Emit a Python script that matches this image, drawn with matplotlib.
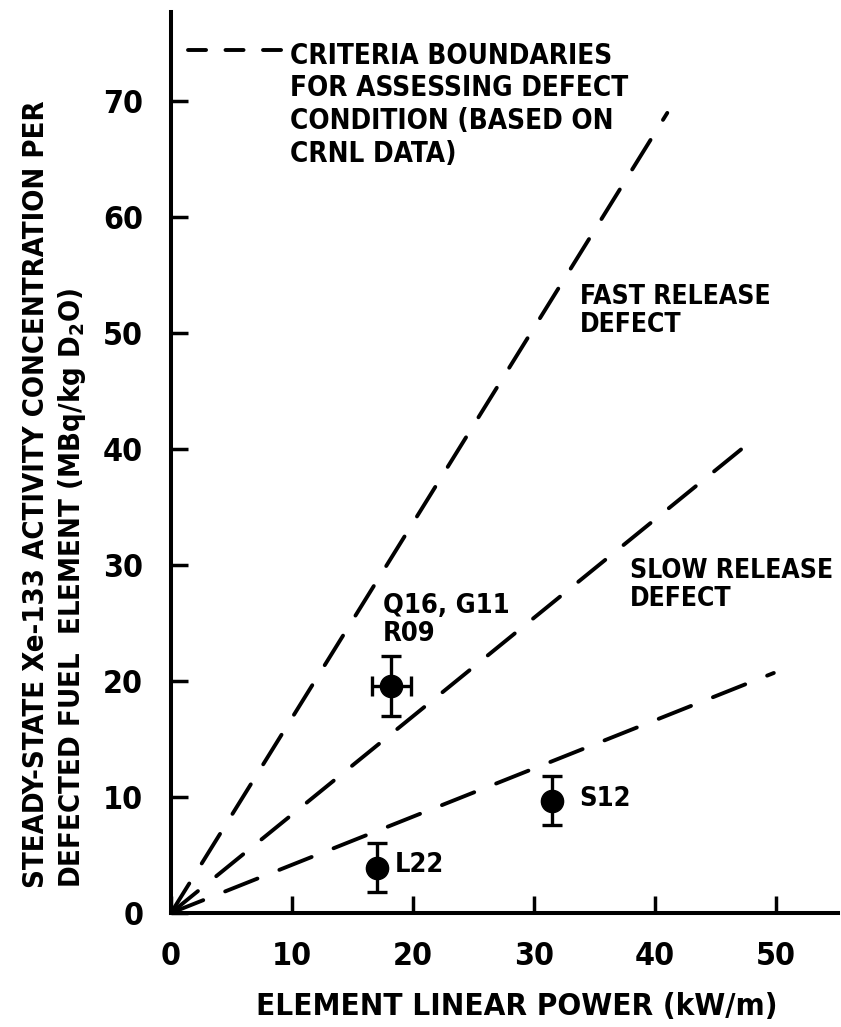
import numpy as np
import matplotlib
matplotlib.use('Agg')
import matplotlib.pyplot as plt
import matplotlib.font_manager as fm

# pick a condensed face if one is installed, the original lettering is narrow
cands = [f for f in fm.fontManager.ttflist
         if 'condensed' in str(f.stretch).lower() or 'Condensed' in f.name or 'Narrow' in f.name]
cands.sort(key=lambda f: (0 if 'DejaVu' in f.name else 1 if 'Liberation' in f.name else 2))
if cands:
    plt.rcParams['font.family'] = [cands[0].name, 'DejaVu Sans']
    plt.rcParams['font.stretch'] = 'condensed'
    k = 1.0
else:
    plt.rcParams['font.family'] = ['DejaVu Sans']
    k = 0.86
plt.rcParams['font.weight'] = 'bold'
plt.rcParams['axes.labelweight'] = 'bold'
plt.rcParams['mathtext.default'] = 'regular'

# criteria boundaries (straight lines from the origin): end points
boundary_x_end = [41.0, 48.3, 49.8]
boundary_y_end = [69.0, 41.0, 20.7]

# measured elements
elem_names = ['Q16, G11\nR09', 'S12', 'L22']
elem_power = [18.2, 31.5, 17.0]
elem_conc = [19.6, 9.7, 3.9]
elem_xerr = [1.6, 0.0, 0.0]
elem_yerr = [2.6, 2.1, 2.1]
label_x = [17.5, 33.7, 18.5]
label_y = [25.3, 9.8, 4.1]

x_ticks = [0, 10, 20, 30, 40, 50]
y_ticks = [0, 10, 20, 30, 40, 50, 60, 70]

fig = plt.figure(figsize=(8.41, 10.27), dpi=100)
ax = fig.add_axes([0.2033, 0.111, 0.7931, 0.8773])

lw = 2.8
for xe, ye in zip(boundary_x_end, boundary_y_end):
    ax.plot([0, xe], [0, ye], color='k', lw=lw, dashes=(25 / lw, 17 / lw),
            dash_capstyle='round', solid_capstyle='round')

for i in range(len(elem_names)):
    xerr = elem_xerr[i] if elem_xerr[i] > 0 else None
    ax.errorbar(elem_power[i], elem_conc[i], yerr=elem_yerr[i], xerr=xerr,
                fmt='o', color='k', ms=16, elinewidth=2.4, capsize=7, capthick=2.4)
    ax.text(label_x[i], label_y[i], elem_names[i], fontsize=19.5 * k, ha='left',
            va='center', linespacing=1.1)

ax.text(33.8, 51.9, 'FAST RELEASE\nDEFECT', fontsize=19 * k, ha='left', va='center',
        linespacing=1.1)
ax.text(37.9, 28.25, 'SLOW RELEASE\nDEFECT', fontsize=19 * k, ha='left', va='center',
        linespacing=1.1)

# legend key
ax.plot([0.0255, 0.176], [0.958, 0.958], transform=ax.transAxes, color='k', lw=lw,
        dashes=(13 / lw, 14 / lw), dash_capstyle='round', clip_on=False)
ax.text(0.178, 0.897, 'CRITERIA BOUNDARIES\nFOR ASSESSING DEFECT\nCONDITION (BASED ON\nCRNL DATA)',
        transform=ax.transAxes, fontsize=20 * k, ha='left', va='center', linespacing=1.22)

ax.set_xlim(0, 55.1)
ax.set_ylim(0, 77.7)
ax.set_xticks(x_ticks)
ax.set_yticks(y_ticks)
ax.tick_params(direction='in', length=12, width=2.5, labelsize=23 * k)
ax.tick_params(axis='x', pad=20)
ax.tick_params(axis='y', pad=20)
for s in ['top', 'right']:
    ax.spines[s].set_visible(False)
for s in ['left', 'bottom']:
    ax.spines[s].set_linewidth(2.9)

ax.set_xlabel('ELEMENT LINEAR POWER (kW/m)', fontsize=22.5 * k, va='center')
ax.xaxis.set_label_coords(0.519, -0.104)

fig.text(0.065, 0.135,
         'STEADY-STATE Xe-133 ACTIVITY CONCENTRATION PER\nDEFECTED FUEL  ELEMENT (MBq/kg D$_2$O)',
         rotation=90, ha='center', va='bottom', multialignment='left',
         fontsize=21 * k, linespacing=1.25)

plt.savefig('out.png', dpi=100)
